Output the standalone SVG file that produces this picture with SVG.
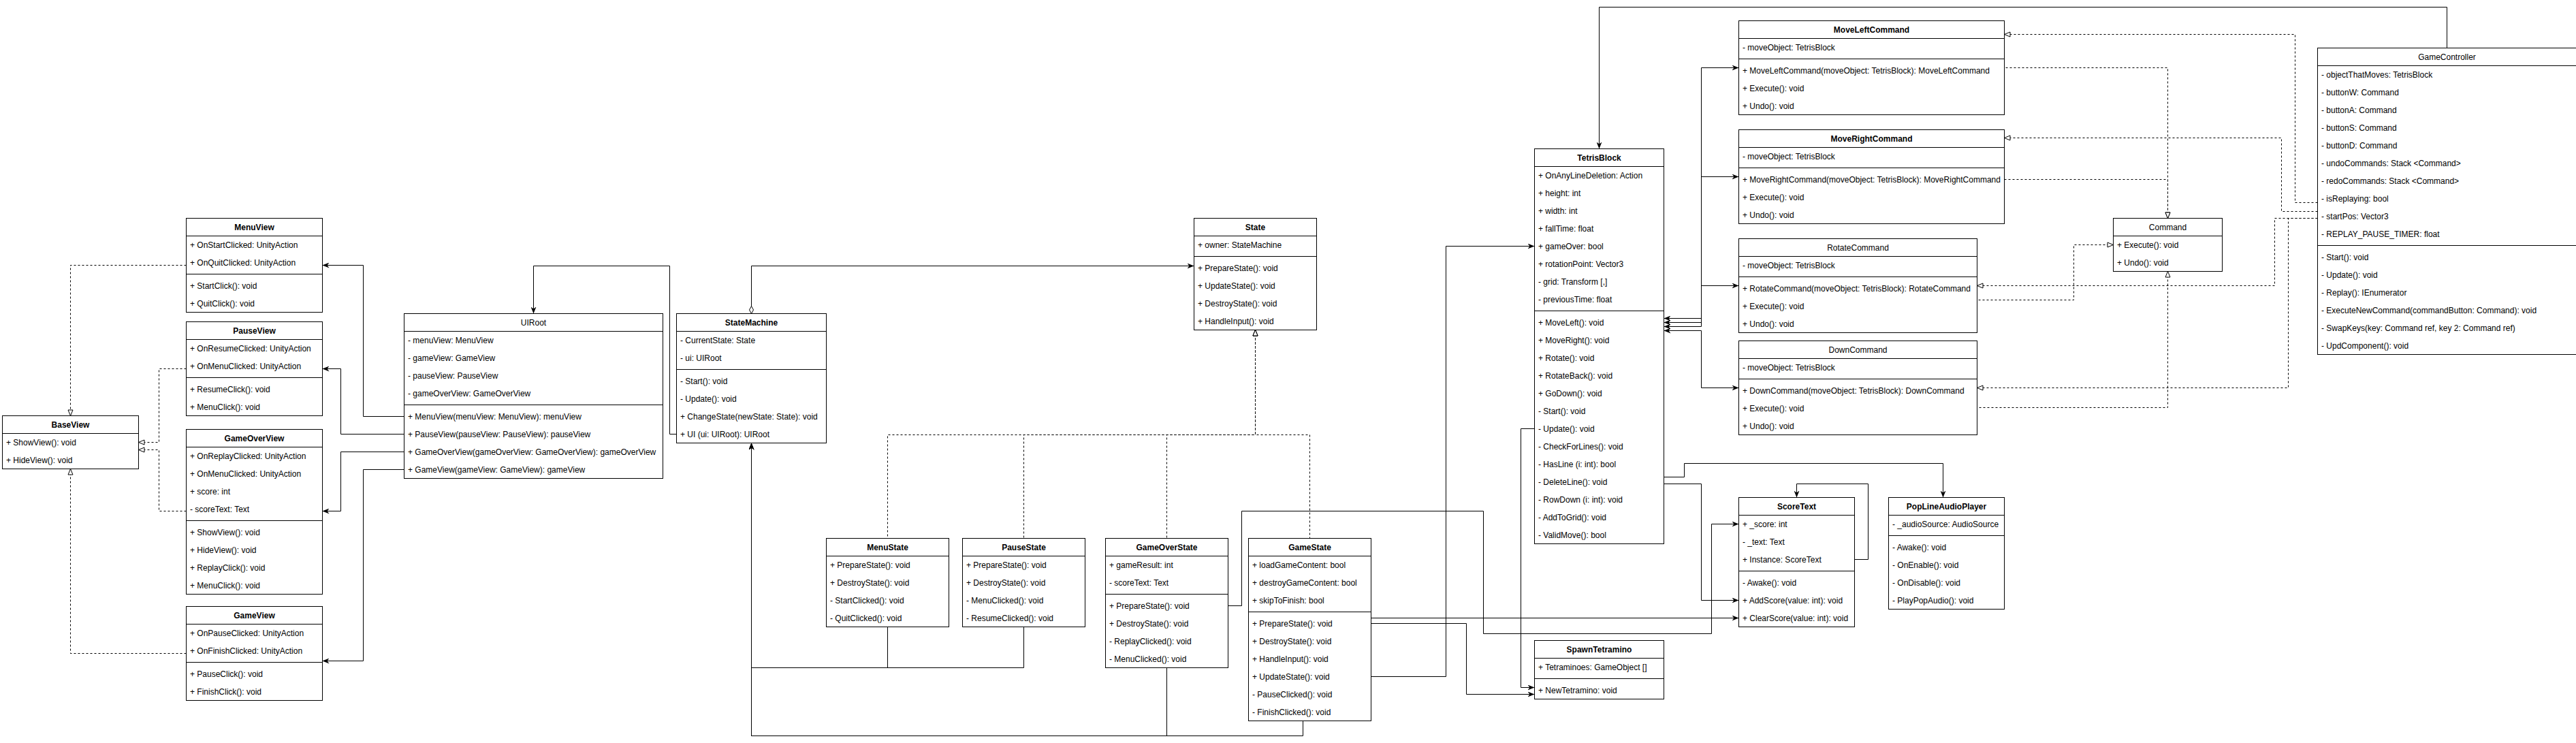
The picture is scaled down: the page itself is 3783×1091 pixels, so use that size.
<svg xmlns="http://www.w3.org/2000/svg" width="3783" height="1091" viewBox="0 0 3783 1091">
<style>
.b{fill:#fff;stroke:#000;stroke-width:1}
.l{stroke:#000;stroke-width:1}
text{font-family:"Liberation Sans",Arial,Helvetica,sans-serif;font-size:12px;fill:#000}
.h{font-weight:bold;text-anchor:middle}
.hn{text-anchor:middle}
.e{fill:none;stroke:#000;stroke-width:1}
.d{stroke-dasharray:3 3}
</style>
<defs>
<marker id="arr" viewBox="0 0 10 8" refX="10" refY="4" markerWidth="10" markerHeight="8" orient="auto-start-reverse" markerUnits="userSpaceOnUse"><path d="M0,0 L10,4 L0,8 L3,4 z" fill="#000"/></marker>
<marker id="tri" viewBox="0 0 10 9" refX="9.5" refY="4.5" markerWidth="10" markerHeight="9" orient="auto-start-reverse" markerUnits="userSpaceOnUse"><path d="M1,1 L9.5,4.5 L1,8 z" fill="#fff" stroke="#000" stroke-width="1"/></marker>
<marker id="dia" viewBox="0 0 12 8" refX="0.5" refY="4" markerWidth="12" markerHeight="8" orient="auto" markerUnits="userSpaceOnUse"><path d="M0.5,4 L6,1 L11.5,4 L6,7 z" fill="#fff" stroke="#000" stroke-width="1"/></marker>
</defs>
<rect x="0" y="0" width="3783" height="1091" fill="#fff"/>

<g id="connectors">
<path class="e d" d="M273.5,389.5 H103.5 V610.5" marker-end="url(#tri)"/>
<path class="e d" d="M273.5,541.5 H233.5 V649.5 H203.5" marker-end="url(#tri)"/>
<path class="e d" d="M273.5,750.5 H233.5 V660.5 H203.5" marker-end="url(#tri)"/>
<path class="e d" d="M273.5,959.5 H103.5 V688.5" marker-end="url(#tri)"/>
<path class="e" d="M593.5,611.5 H533.5 V389.5 H473.5" marker-end="url(#arr)"/>
<path class="e" d="M593.5,637.5 H500.5 V541.5 H473.5" marker-end="url(#arr)"/>
<path class="e" d="M593.5,663.5 H500.5 V750.5 H473.5" marker-end="url(#arr)"/>
<path class="e" d="M593.5,689.5 H533.5 V970.5 H473.5" marker-end="url(#arr)"/>
<path class="e" d="M993.5,637.5 H983.5 V390.5 H783.5 V460.5" marker-end="url(#arr)"/>
<path class="e" d="M1103.5,460.5 V390.5 H1753.5" marker-start="url(#dia)" marker-end="url(#arr)"/>
<path class="e d" d="M1843.5,484.5 V638.5 H1303.5 V790.5" marker-start="url(#tri)"/>
<path class="e d" d="M1843.5,484.5 V638.5 H1503.5 V790.5" marker-start="url(#tri)"/>
<path class="e d" d="M1843.5,484.5 V638.5 H1713.5 V790.5" marker-start="url(#tri)"/>
<path class="e d" d="M1843.5,484.5 V638.5 H1923.5 V790.5" marker-start="url(#tri)"/>
<path class="e" d="M1103.5,650.5 V980.5 H1303.5 V920.5" marker-start="url(#arr)"/>
<path class="e" d="M1103.5,650.5 V980.5 H1503.5 V920.5" marker-start="url(#arr)"/>
<path class="e" d="M1103.5,650.5 V1080.5 H1713.5 V980.5" marker-start="url(#arr)"/>
<path class="e" d="M1103.5,650.5 V1080.5 H1913.5 V1058.5" marker-start="url(#arr)"/>
<path class="e" d="M1803.5,889.5 H1823.5 V750.5 H2178.5 V930.5 H2513.5 V769.5 H2553.5" marker-end="url(#arr)"/>
<path class="e" d="M2013.5,907.5 H2553.5" marker-end="url(#arr)"/>
<path class="e" d="M2013.5,915.5 H2153.5 V1019.5 H2253.5" marker-end="url(#arr)"/>
<path class="e" d="M2013.5,993.5 H2123.5 V361.5 H2253.5" marker-end="url(#arr)"/>
<path class="e" d="M2253.5,629.5 H2233.5 V1009.5 H2253.5" marker-end="url(#arr)"/>
<path class="e" d="M2443.5,700.5 H2473.5 V680.5 H2853.5 V730.5" marker-end="url(#arr)"/>
<path class="e" d="M2443.5,710.5 H2498.5 V881.5 H2553.5" marker-end="url(#arr)"/>
<path class="e" d="M2723.5,821.5 H2743.5 V710.5 H2638.5 V730.5" marker-end="url(#arr)"/>
<path class="e" d="M3593.5,70.5 V10.5 H2348.5 V218.5" marker-end="url(#arr)"/>
<path class="e" d="M2553.5,99.5 H2498.5 V467.5 H2443.5" marker-start="url(#arr)" marker-end="url(#arr)"/>
<path class="e" d="M2553.5,259.5 H2498.5 V473.5 H2443.5" marker-start="url(#arr)" marker-end="url(#arr)"/>
<path class="e" d="M2553.5,419.5 H2498.5 V479.5 H2443.5" marker-start="url(#arr)" marker-end="url(#arr)"/>
<path class="e" d="M2553.5,569.5 H2498.5 V485.5 H2443.5" marker-start="url(#arr)" marker-end="url(#arr)"/>
<path class="e d" d="M3183.5,320.5 V99.5 H2943.5" marker-start="url(#tri)"/>
<path class="e d" d="M3183.5,320.5 V263.5 H2943.5" marker-start="url(#tri)"/>
<path class="e d" d="M3103.5,359.5 H3045.5 V440.5 H2903.5" marker-start="url(#tri)"/>
<path class="e d" d="M3183.5,398.5 V598.5 H2903.5" marker-start="url(#tri)"/>
<path class="e d" d="M3403.5,297.5 H3370.5 V50.5 H2943.5" marker-end="url(#tri)"/>
<path class="e d" d="M3403.5,310.5 H3350.5 V202.5 H2943.5" marker-end="url(#tri)"/>
<path class="e d" d="M3403.5,320.5 H3340.5 V419.5 H2903.5" marker-end="url(#tri)"/>
<path class="e d" d="M3403.5,320.5 H3360.5 V569.5 H2903.5" marker-end="url(#tri)"/>
</g>

<g id="BaseView">
<rect class="b" x="3.5" y="610.5" width="200" height="78"/>
<line class="l" x1="3.5" y1="636.5" x2="203.5" y2="636.5"/>
<text class="h" x="103.5" y="627.5">BaseView</text>
<text x="9" y="653.5">+ ShowView(): void</text>
<text x="9" y="679.5">+ HideView(): void</text>
</g>

<g id="MenuView">
<rect class="b" x="273.5" y="320.5" width="200" height="138"/>
<line class="l" x1="273.5" y1="346.5" x2="473.5" y2="346.5"/>
<line class="l" x1="273.5" y1="402.5" x2="473.5" y2="402.5"/>
<text class="h" x="373.5" y="337.5">MenuView</text>
<text x="279" y="363.5">+ OnStartClicked: UnityAction</text>
<text x="279" y="389.5">+ OnQuitClicked: UnityAction</text>
<text x="279" y="423.5">+ StartClick(): void</text>
<text x="279" y="449.5">+ QuitClick(): void</text>
</g>

<g id="PauseView">
<rect class="b" x="273.5" y="472.5" width="200" height="138"/>
<line class="l" x1="273.5" y1="498.5" x2="473.5" y2="498.5"/>
<line class="l" x1="273.5" y1="554.5" x2="473.5" y2="554.5"/>
<text class="h" x="373.5" y="489.5">PauseView</text>
<text x="279" y="515.5">+ OnResumeClicked: UnityAction</text>
<text x="279" y="541.5">+ OnMenuClicked: UnityAction</text>
<text x="279" y="575.5">+ ResumeClick(): void</text>
<text x="279" y="601.5">+ MenuClick(): void</text>
</g>

<g id="GameOverView">
<rect class="b" x="273.5" y="630.5" width="200" height="242"/>
<line class="l" x1="273.5" y1="656.5" x2="473.5" y2="656.5"/>
<line class="l" x1="273.5" y1="764.5" x2="473.5" y2="764.5"/>
<text class="h" x="373.5" y="647.5">GameOverView</text>
<text x="279" y="673.5">+ OnReplayClicked: UnityAction</text>
<text x="279" y="699.5">+ OnMenuClicked: UnityAction</text>
<text x="279" y="725.5">+ score: int</text>
<text x="279" y="751.5">- scoreText: Text</text>
<text x="279" y="785.5">+ ShowView(): void</text>
<text x="279" y="811.5">+ HideView(): void</text>
<text x="279" y="837.5">+ ReplayClick(): void</text>
<text x="279" y="863.5">+ MenuClick(): void</text>
</g>

<g id="GameView">
<rect class="b" x="273.5" y="890.5" width="200" height="138"/>
<line class="l" x1="273.5" y1="916.5" x2="473.5" y2="916.5"/>
<line class="l" x1="273.5" y1="972.5" x2="473.5" y2="972.5"/>
<text class="h" x="373.5" y="907.5">GameView</text>
<text x="279" y="933.5">+ OnPauseClicked: UnityAction</text>
<text x="279" y="959.5">+ OnFinishClicked: UnityAction</text>
<text x="279" y="993.5">+ PauseClick(): void</text>
<text x="279" y="1019.5">+ FinishClick(): void</text>
</g>

<g id="UIRoot">
<rect class="b" x="593.5" y="460.5" width="380" height="242"/>
<line class="l" x1="593.5" y1="486.5" x2="973.5" y2="486.5"/>
<line class="l" x1="593.5" y1="594.5" x2="973.5" y2="594.5"/>
<text class="hn" x="783.5" y="477.5">UIRoot</text>
<text x="599" y="503.5">- menuView: MenuView</text>
<text x="599" y="529.5">- gameView: GameView</text>
<text x="599" y="555.5">- pauseView: PauseView</text>
<text x="599" y="581.5">- gameOverView: GameOverView</text>
<text x="599" y="615.5">+ MenuView(menuView: MenuView): menuView</text>
<text x="599" y="641.5">+ PauseView(pauseView: PauseView): pauseView</text>
<text x="599" y="667.5">+ GameOverView(gameOverView: GameOverView): gameOverView</text>
<text x="599" y="693.5">+ GameView(gameView: GameView): gameView</text>
</g>

<g id="StateMachine">
<rect class="b" x="993.5" y="460.5" width="220" height="190"/>
<line class="l" x1="993.5" y1="486.5" x2="1213.5" y2="486.5"/>
<line class="l" x1="993.5" y1="542.5" x2="1213.5" y2="542.5"/>
<text class="h" x="1103.5" y="477.5">StateMachine</text>
<text x="999" y="503.5">- CurrentState: State</text>
<text x="999" y="529.5">- ui: UIRoot</text>
<text x="999" y="563.5">- Start(): void</text>
<text x="999" y="589.5">- Update(): void</text>
<text x="999" y="615.5">+ ChangeState(newState: State): void</text>
<text x="999" y="641.5">+ UI (ui: UIRoot): UIRoot</text>
</g>

<g id="State">
<rect class="b" x="1753.5" y="320.5" width="180" height="164"/>
<line class="l" x1="1753.5" y1="346.5" x2="1933.5" y2="346.5"/>
<line class="l" x1="1753.5" y1="376.5" x2="1933.5" y2="376.5"/>
<text class="h" x="1843.5" y="337.5">State</text>
<text x="1759" y="363.5">+ owner: StateMachine</text>
<text x="1759" y="397.5">+ PrepareState(): void</text>
<text x="1759" y="423.5">+ UpdateState(): void</text>
<text x="1759" y="449.5">+ DestroyState(): void</text>
<text x="1759" y="475.5">+ HandleInput(): void</text>
</g>

<g id="MenuState">
<rect class="b" x="1213.5" y="790.5" width="180" height="130"/>
<line class="l" x1="1213.5" y1="816.5" x2="1393.5" y2="816.5"/>
<text class="h" x="1303.5" y="807.5">MenuState</text>
<text x="1219" y="833.5">+ PrepareState(): void</text>
<text x="1219" y="859.5">+ DestroyState(): void</text>
<text x="1219" y="885.5">- StartClicked(): void</text>
<text x="1219" y="911.5">- QuitClicked(): void</text>
</g>

<g id="PauseState">
<rect class="b" x="1413.5" y="790.5" width="180" height="130"/>
<line class="l" x1="1413.5" y1="816.5" x2="1593.5" y2="816.5"/>
<text class="h" x="1503.5" y="807.5">PauseState</text>
<text x="1419" y="833.5">+ PrepareState(): void</text>
<text x="1419" y="859.5">+ DestroyState(): void</text>
<text x="1419" y="885.5">- MenuClicked(): void</text>
<text x="1419" y="911.5">- ResumeClicked(): void</text>
</g>

<g id="GameOverState">
<rect class="b" x="1623.5" y="790.5" width="180" height="190"/>
<line class="l" x1="1623.5" y1="816.5" x2="1803.5" y2="816.5"/>
<line class="l" x1="1623.5" y1="872.5" x2="1803.5" y2="872.5"/>
<text class="h" x="1713.5" y="807.5">GameOverState</text>
<text x="1629" y="833.5">+ gameResult: int</text>
<text x="1629" y="859.5">- scoreText: Text</text>
<text x="1629" y="893.5">+ PrepareState(): void</text>
<text x="1629" y="919.5">+ DestroyState(): void</text>
<text x="1629" y="945.5">- ReplayClicked(): void</text>
<text x="1629" y="971.5">- MenuClicked(): void</text>
</g>

<g id="GameState">
<rect class="b" x="1833.5" y="790.5" width="180" height="268"/>
<line class="l" x1="1833.5" y1="816.5" x2="2013.5" y2="816.5"/>
<line class="l" x1="1833.5" y1="898.5" x2="2013.5" y2="898.5"/>
<text class="h" x="1923.5" y="807.5">GameState</text>
<text x="1839" y="833.5">+ loadGameContent: bool</text>
<text x="1839" y="859.5">+ destroyGameContent: bool</text>
<text x="1839" y="885.5">+ skipToFinish: bool</text>
<text x="1839" y="919.5">+ PrepareState(): void</text>
<text x="1839" y="945.5">+ DestroyState(): void</text>
<text x="1839" y="971.5">+ HandleInput(): void</text>
<text x="1839" y="997.5">+ UpdateState(): void</text>
<text x="1839" y="1023.5">- PauseClicked(): void</text>
<text x="1839" y="1049.5">- FinishClicked(): void</text>
</g>

<g id="TetrisBlock">
<rect class="b" x="2253.5" y="218.5" width="190" height="580"/>
<line class="l" x1="2253.5" y1="244.5" x2="2443.5" y2="244.5"/>
<line class="l" x1="2253.5" y1="456.5" x2="2443.5" y2="456.5"/>
<text class="h" x="2348.5" y="235.5">TetrisBlock</text>
<text x="2259" y="261.5">+ OnAnyLineDeletion: Action</text>
<text x="2259" y="287.5">+ height: int</text>
<text x="2259" y="313.5">+ width: int</text>
<text x="2259" y="339.5">+ fallTime: float</text>
<text x="2259" y="365.5">+ gameOver: bool</text>
<text x="2259" y="391.5">+ rotationPoint: Vector3</text>
<text x="2259" y="417.5">- grid: Transform [,]</text>
<text x="2259" y="443.5">- previousTime: float</text>
<text x="2259" y="477.5">+ MoveLeft(): void</text>
<text x="2259" y="503.5">+ MoveRight(): void</text>
<text x="2259" y="529.5">+ Rotate(): void</text>
<text x="2259" y="555.5">+ RotateBack(): void</text>
<text x="2259" y="581.5">+ GoDown(): void</text>
<text x="2259" y="607.5">- Start(): void</text>
<text x="2259" y="633.5">- Update(): void</text>
<text x="2259" y="659.5">- CheckForLines(): void</text>
<text x="2259" y="685.5">- HasLine (i: int): bool</text>
<text x="2259" y="711.5">- DeleteLine(): void</text>
<text x="2259" y="737.5">- RowDown (i: int): void</text>
<text x="2259" y="763.5">- AddToGrid(): void</text>
<text x="2259" y="789.5">- ValidMove(): bool</text>
</g>

<g id="SpawnTetramino">
<rect class="b" x="2253.5" y="940.5" width="190" height="86"/>
<line class="l" x1="2253.5" y1="966.5" x2="2443.5" y2="966.5"/>
<line class="l" x1="2253.5" y1="996.5" x2="2443.5" y2="996.5"/>
<text class="h" x="2348.5" y="957.5">SpawnTetramino</text>
<text x="2259" y="983.5">+ Tetraminoes: GameObject []</text>
<text x="2259" y="1017.5">+ NewTetramino: void</text>
</g>

<g id="ScoreText">
<rect class="b" x="2553.5" y="730.5" width="170" height="190"/>
<line class="l" x1="2553.5" y1="756.5" x2="2723.5" y2="756.5"/>
<line class="l" x1="2553.5" y1="838.5" x2="2723.5" y2="838.5"/>
<text class="h" x="2638.5" y="747.5">ScoreText</text>
<text x="2559" y="773.5">+ _score: int</text>
<text x="2559" y="799.5">- _text: Text</text>
<text x="2559" y="825.5">+ Instance: ScoreText</text>
<text x="2559" y="859.5">- Awake(): void</text>
<text x="2559" y="885.5">+ AddScore(value: int): void</text>
<text x="2559" y="911.5">+ ClearScore(value: int): void</text>
</g>

<g id="PopLineAudioPlayer">
<rect class="b" x="2773.5" y="730.5" width="170" height="164"/>
<line class="l" x1="2773.5" y1="756.5" x2="2943.5" y2="756.5"/>
<line class="l" x1="2773.5" y1="786.5" x2="2943.5" y2="786.5"/>
<text class="h" x="2858.5" y="747.5">PopLineAudioPlayer</text>
<text x="2779" y="773.5">- _audioSource: AudioSource</text>
<text x="2779" y="807.5">- Awake(): void</text>
<text x="2779" y="833.5">- OnEnable(): void</text>
<text x="2779" y="859.5">- OnDisable(): void</text>
<text x="2779" y="885.5">- PlayPopAudio(): void</text>
</g>

<g id="MoveLeftCommand">
<rect class="b" x="2553.5" y="30.5" width="390" height="138"/>
<line class="l" x1="2553.5" y1="56.5" x2="2943.5" y2="56.5"/>
<line class="l" x1="2553.5" y1="86.5" x2="2943.5" y2="86.5"/>
<text class="h" x="2748.5" y="47.5">MoveLeftCommand</text>
<text x="2559" y="73.5">- moveObject: TetrisBlock</text>
<text x="2559" y="107.5">+ MoveLeftCommand(moveObject: TetrisBlock): MoveLeftCommand</text>
<text x="2559" y="133.5">+ Execute(): void</text>
<text x="2559" y="159.5">+ Undo(): void</text>
</g>

<g id="MoveRightCommand">
<rect class="b" x="2553.5" y="190.5" width="390" height="138"/>
<line class="l" x1="2553.5" y1="216.5" x2="2943.5" y2="216.5"/>
<line class="l" x1="2553.5" y1="246.5" x2="2943.5" y2="246.5"/>
<text class="h" x="2748.5" y="207.5">MoveRightCommand</text>
<text x="2559" y="233.5">- moveObject: TetrisBlock</text>
<text x="2559" y="267.5">+ MoveRightCommand(moveObject: TetrisBlock): MoveRightCommand</text>
<text x="2559" y="293.5">+ Execute(): void</text>
<text x="2559" y="319.5">+ Undo(): void</text>
</g>

<g id="RotateCommand">
<rect class="b" x="2553.5" y="350.5" width="350" height="138"/>
<line class="l" x1="2553.5" y1="376.5" x2="2903.5" y2="376.5"/>
<line class="l" x1="2553.5" y1="406.5" x2="2903.5" y2="406.5"/>
<text class="hn" x="2728.5" y="367.5">RotateCommand</text>
<text x="2559" y="393.5">- moveObject: TetrisBlock</text>
<text x="2559" y="427.5">+ RotateCommand(moveObject: TetrisBlock): RotateCommand</text>
<text x="2559" y="453.5">+ Execute(): void</text>
<text x="2559" y="479.5">+ Undo(): void</text>
</g>

<g id="DownCommand">
<rect class="b" x="2553.5" y="500.5" width="350" height="138"/>
<line class="l" x1="2553.5" y1="526.5" x2="2903.5" y2="526.5"/>
<line class="l" x1="2553.5" y1="556.5" x2="2903.5" y2="556.5"/>
<text class="hn" x="2728.5" y="517.5">DownCommand</text>
<text x="2559" y="543.5">- moveObject: TetrisBlock</text>
<text x="2559" y="577.5">+ DownCommand(moveObject: TetrisBlock): DownCommand</text>
<text x="2559" y="603.5">+ Execute(): void</text>
<text x="2559" y="629.5">+ Undo(): void</text>
</g>

<g id="Command">
<rect class="b" x="3103.5" y="320.5" width="160" height="78"/>
<line class="l" x1="3103.5" y1="346.5" x2="3263.5" y2="346.5"/>
<text class="hn" x="3183.5" y="337.5">Command</text>
<text x="3109" y="363.5">+ Execute(): void</text>
<text x="3109" y="389.5">+ Undo(): void</text>
</g>

<g id="GameController">
<rect class="b" x="3403.5" y="70.5" width="380" height="450"/>
<line class="l" x1="3403.5" y1="96.5" x2="3783.5" y2="96.5"/>
<line class="l" x1="3403.5" y1="360.5" x2="3783.5" y2="360.5"/>
<text class="hn" x="3593.5" y="87.5">GameController</text>
<text x="3409" y="113.5">- objectThatMoves: TetrisBlock</text>
<text x="3409" y="139.5">- buttonW: Command</text>
<text x="3409" y="165.5">- buttonA: Command</text>
<text x="3409" y="191.5">- buttonS: Command</text>
<text x="3409" y="217.5">- buttonD: Command</text>
<text x="3409" y="243.5">- undoCommands: Stack &lt;Command&gt;</text>
<text x="3409" y="269.5">- redoCommands: Stack &lt;Command&gt;</text>
<text x="3409" y="295.5">- isReplaying: bool</text>
<text x="3409" y="321.5">- startPos: Vector3</text>
<text x="3409" y="347.5">- REPLAY_PAUSE_TIMER: float</text>
<text x="3409" y="381.5">- Start(): void</text>
<text x="3409" y="407.5">- Update(): void</text>
<text x="3409" y="433.5">- Replay(): IEnumerator</text>
<text x="3409" y="459.5">- ExecuteNewCommand(commandButton: Command): void</text>
<text x="3409" y="485.5">- SwapKeys(key: Command ref, key 2: Command ref)</text>
<text x="3409" y="511.5">- UpdComponent(): void</text>
</g>
</svg>
